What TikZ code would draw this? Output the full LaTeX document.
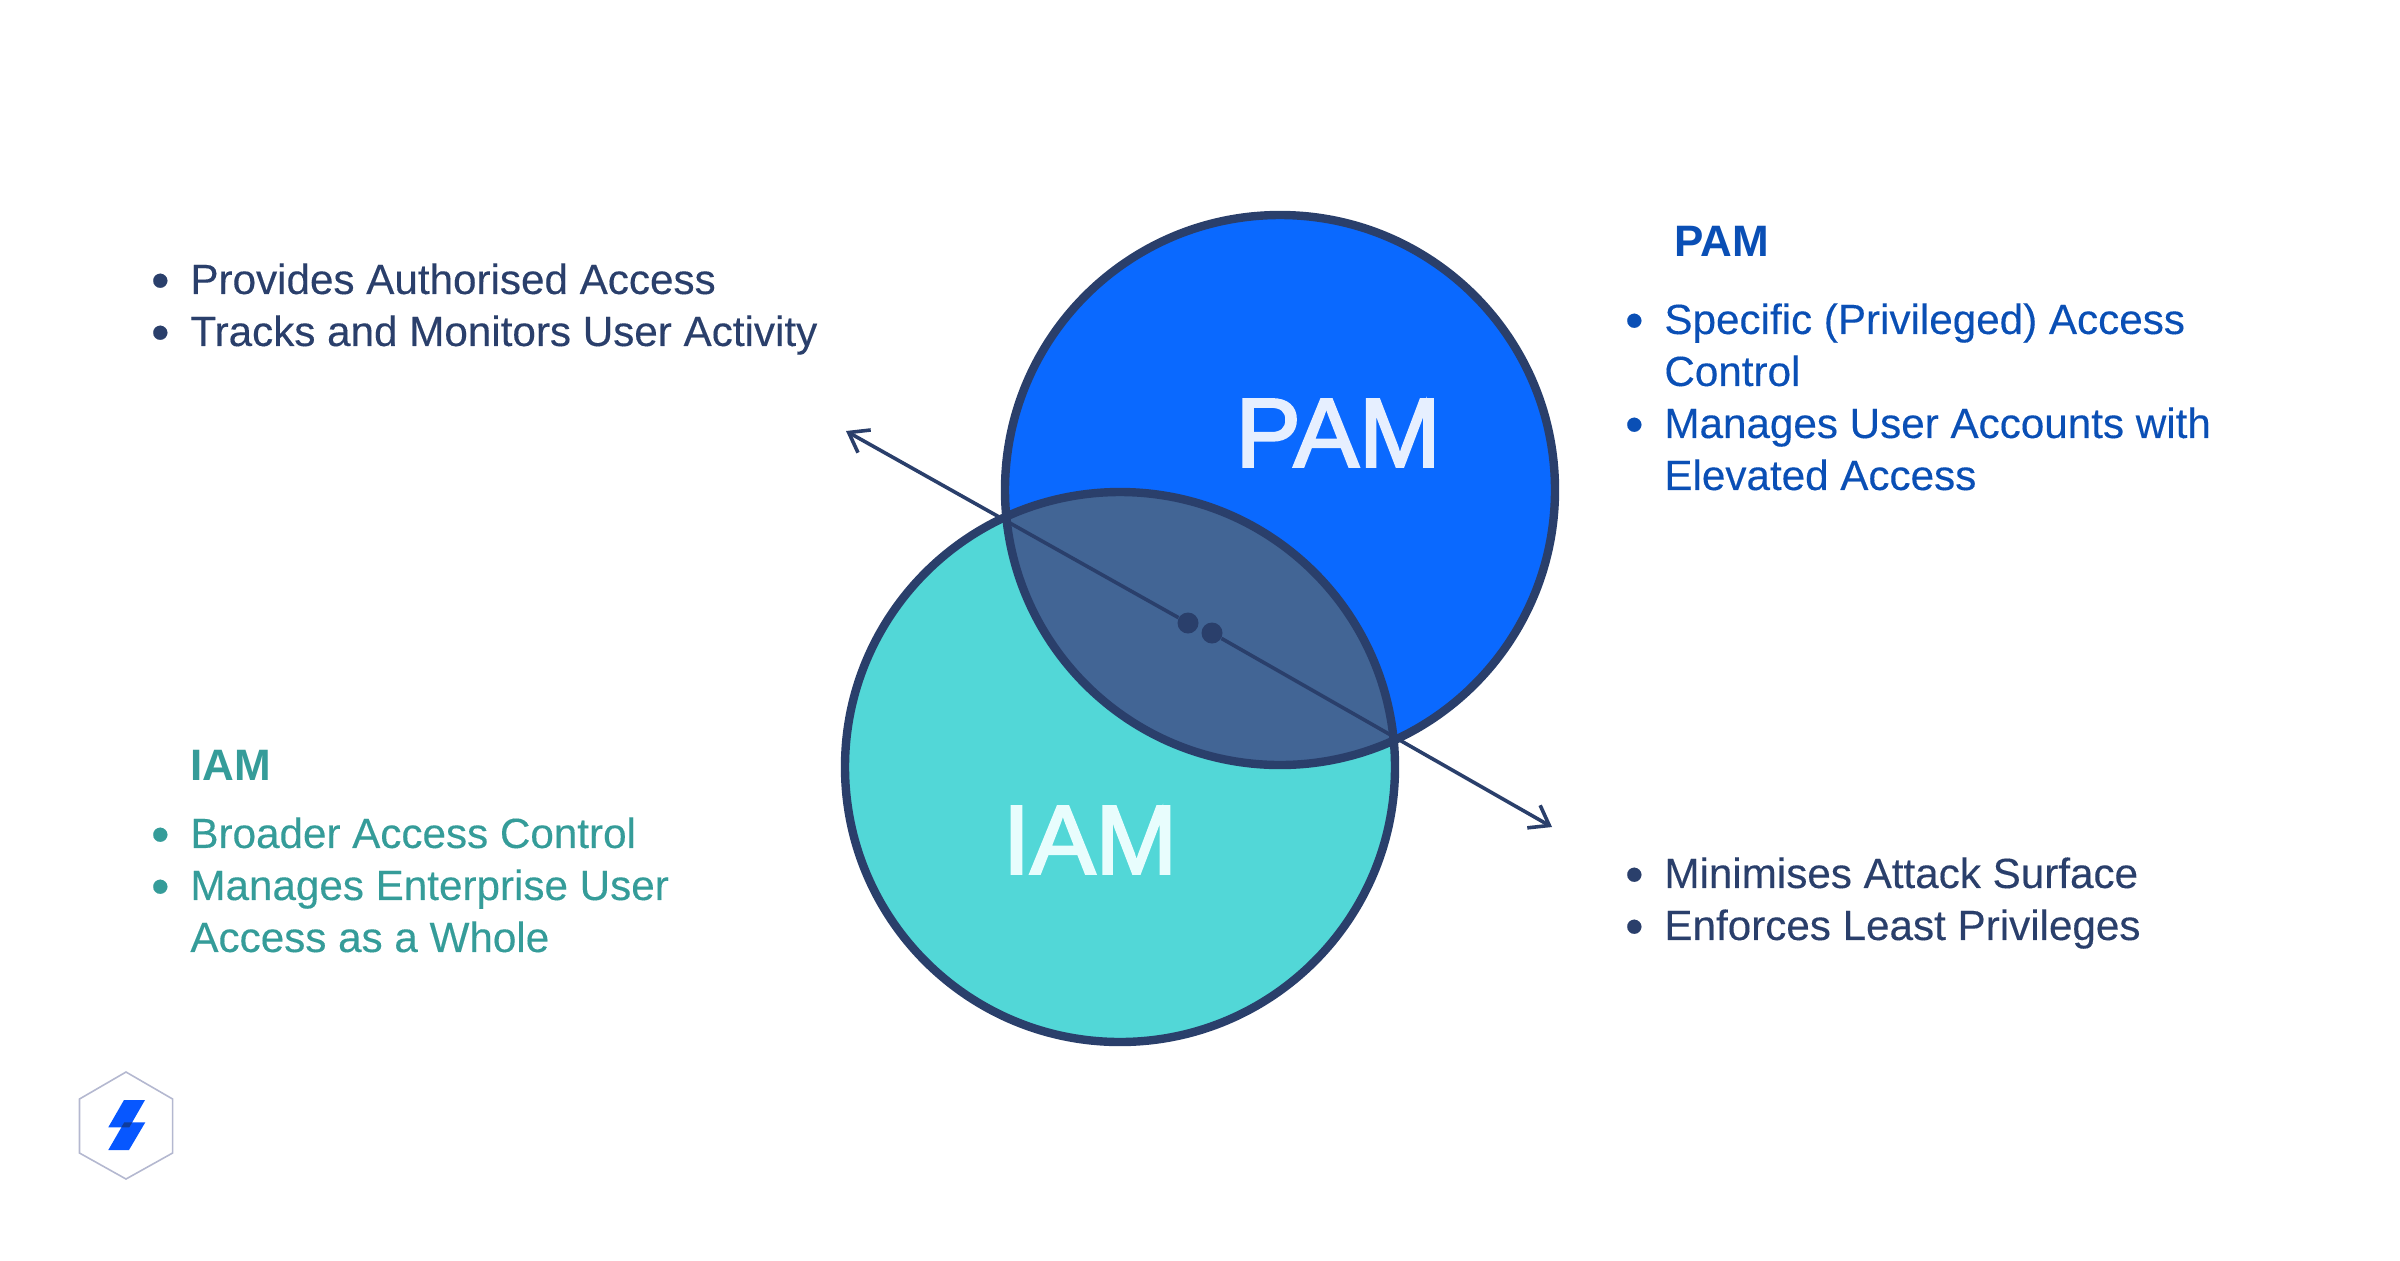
\documentclass[tikz,border=0pt]{standalone}
\usepackage{xcolor}
\usepackage{fontspec}
\usetikzlibrary{arrows.meta}
\setmainfont{Liberation Sans}
\definecolor{ringcol}{HTML}{2A3F6B}
\definecolor{pamblue}{HTML}{0A69FF}
\definecolor{iamteal}{HTML}{52D7D7}
\definecolor{lenscol}{HTML}{426595}
\definecolor{pamtext}{HTML}{0A4FB5}
\definecolor{iamtext}{HTML}{359C99}
\definecolor{pamlabel}{HTML}{E6EFFF}
\definecolor{iamlabel}{HTML}{E8FDFD}
\definecolor{hexcol}{HTML}{B4B8D0}
\definecolor{boltcol}{HTML}{0757FF}
\definecolor{boltdark}{HTML}{0F3C9C}
\newcommand{\itm}{\llap{\fontsize{26}{26}\selectfont\raisebox{-2pt}{\textbullet}\hspace{10.5pt}}}
\tikzstyle{listtext} = [anchor=north west, inner sep=0pt, align=left, font=\fontsize{21.1}{26}\selectfont\addfontfeature{FakeBold=0.25}]
\tikzstyle{headtext} = [anchor=north west, inner sep=0pt, font=\fontsize{22}{26}\selectfont\bfseries]
\tikzstyle{biglabel} = [inner sep=0pt, font=\fontsize{49}{49}\selectfont\addfontfeature{FakeBold=2.5}]
\tikzstyle{ring} = [line width=4.2pt, draw=ringcol]
\tikzstyle{dotnode} = [circle, fill=ringcol, inner sep=0pt, minimum size=10.5pt]
\tikzstyle{connect1} = [line width=1.8pt, draw=ringcol, -{Straight Barb[length=9pt,width=13pt]}]

\begin{document}
\begin{tikzpicture}[x=0.5pt,y=-0.5pt]
	\useasboundingbox (0,0) rectangle (2400,1260);

	% the two circles and the part they share
	\coordinate (pamc) at (1280,490);
	\coordinate (iamc) at (1120,767);
	\fill [iamteal] (iamc) circle (275);
	\fill [pamblue] (pamc) circle (275);
	\begin{scope}
		\clip (iamc) circle (275);
		\fill [lenscol] (pamc) circle (275);
	\end{scope}
	\draw [ring] (iamc) circle (275);
	\draw [ring] (pamc) circle (275);

	% text inside the circles
	\node (pamname) [biglabel, text=pamlabel] at (1338,433) {PAM};
	\node (iamname) [biglabel, text=iamlabel] at (1090,840) {IAM};

	% dots and arrows
	\node (dotleft) [dotnode] at (1188,623) {};
	\node (dotright) [dotnode] at (1212,633) {};
	\coordinate (endleft) at (846,431);
	\coordinate (endright) at (1552,827);
	\draw [connect1] (dotleft) -- (endleft);
	\draw [connect1] (dotright) -- (endright);

	% lists around the circles
	\node (toplist) [listtext, text=ringcol] at (190,263) {\itm Provides Authorised Access\\\itm Tracks and Monitors User Activity};
	\node (pamhead) [headtext, text=pamtext] at (1674,226) {PAM};
	\node (pamlist) [listtext, text=pamtext] at (1664,303) {\itm Specific (Privileged) Access\\Control\\\itm Manages User Accounts with\\Elevated Access};
	\node (iamhead) [headtext, text=iamtext] at (190,750) {IAM};
	\node (iamlist) [listtext, text=iamtext] at (190,817) {\itm Broader Access Control\\\itm Manages Enterprise User\\Access as a Whole};
	\node (lowlist) [listtext, text=ringcol] at (1664,857) {\itm Minimises Attack Surface\\\itm Enforces Least Privileges};

	% logo
	\draw [hexcol, line width=0.8pt] (126,1072) -- (172.6,1099) -- (172.6,1153) -- (126,1179) -- (79.5,1153) -- (79.5,1099) -- cycle;
	\fill [boltcol] (124,1100) -- (145,1100) -- (129.3,1127.3) -- (108.3,1127.3) -- cycle;
	\fill [boltcol] (124.3,1122.3) -- (145.3,1122.3) -- (129,1150) -- (108.3,1150) -- cycle;
	\fill [boltdark] (124.3,1122.3) -- (132.3,1122.3) -- (129.3,1127.3) -- (121.3,1127.3) -- cycle;
\end{tikzpicture}
\end{document}
